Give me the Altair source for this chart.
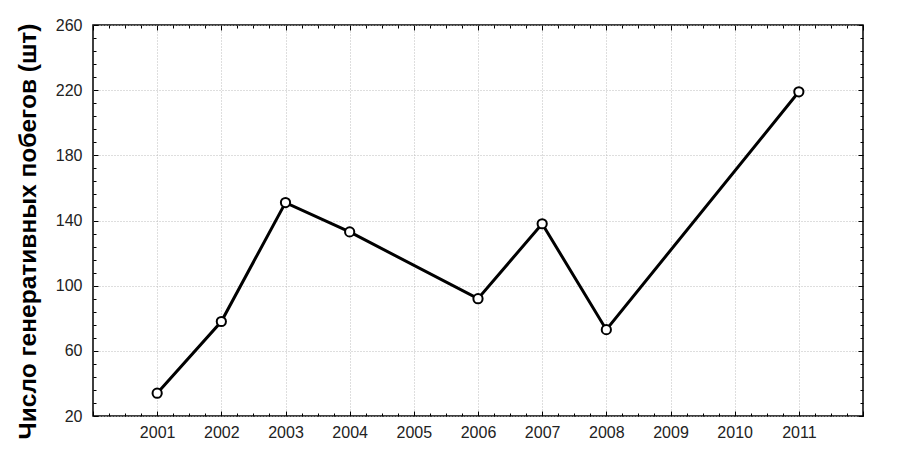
import altair as alt
import pandas as pd

years = [2001, 2002, 2003, 2004, 2006, 2007, 2008, 2011]
values = [34, 78, 151, 133, 92, 138, 73, 219]

x_labels = [2001, 2002, 2003, 2004, 2005, 2006, 2007, 2008, 2009, 2010, 2011]
x_major = [2000, 2001, 2002, 2003, 2004, 2005, 2006, 2007, 2008, 2009, 2010, 2011, 2012]
x_minor = [y + q for y in range(2000, 2012) for q in (0.25, 0.5, 0.75)]
y_labels = [20, 60, 100, 140, 180, 220, 260]
y_minor = [v + s for v in range(20, 260, 40) for s in (8, 16, 24, 32)]

df = pd.DataFrame({"year": years, "value": values})

W, H = 770, 391
xs = alt.Scale(domain=[2000, 2012], nice=False, zero=False)
ys = alt.Scale(domain=[20, 260], nice=False, zero=False)

LF = "Liberation Sans"

def tick_axis(orient, vals, size, offset):
    return alt.Axis(orient=orient, values=vals, labels=False, domain=False, grid=False,
                    ticks=True, tickSize=size, tickColor="black", tickWidth=1,
                    offset=offset, title=None)

base = alt.Chart(df)

line = base.mark_line(color="black", strokeWidth=3).encode(
    x=alt.X("year:Q", scale=xs, axis=alt.Axis(
        orient="bottom", values=x_labels, format="d", ticks=False, domain=False,
        grid=True, gridColor="#bdbdbd", gridDash=[1, 2], gridWidth=1,
        labelFont=LF, labelFontSize=16, labelColor="#222", labelPadding=8,
        labelFlush=False, title=None)),
    y=alt.Y("value:Q", scale=ys, axis=alt.Axis(
        orient="left", values=y_labels, ticks=False, domain=False,
        grid=True, gridColor="#bdbdbd", gridDash=[1, 2], gridWidth=1,
        labelFont=LF, labelFontSize=16, labelColor="#222", labelPadding=11,
        labelFlush=False,
        title="Число генеративных побегов (шт)", titleFont=LF, titleFontSize=24.5,
        titleFontWeight="bold", titleColor="black", titleAngle=270,
        titleX=-65, titleY=206, titleAlign="center", titleBaseline="middle")),
)

points = base.mark_point(shape="circle", filled=True, fill="white", stroke="black",
                         strokeWidth=2, size=85, opacity=1).encode(
    x=alt.X("year:Q", scale=xs, axis=None),
    y=alt.Y("value:Q", scale=ys, axis=None),
)

def ghost(xaxis, yaxis):
    return base.mark_point(opacity=0).encode(
        x=alt.X("year:Q", scale=xs, axis=xaxis),
        y=alt.Y("value:Q", scale=ys, axis=yaxis),
    )

g1 = ghost(tick_axis("bottom", x_major, 5, -5), tick_axis("left", y_labels, 5, -5))
g2 = ghost(tick_axis("bottom", x_minor, 3, -3), tick_axis("left", y_minor, 3, -3))
g3 = ghost(tick_axis("top", x_major, 5, -5), tick_axis("right", y_labels, 5, -5))
g4 = ghost(tick_axis("top", x_minor, 3, -3), tick_axis("right", y_minor, 3, -3))

chart = alt.layer(line, g1, g2, g3, g4, points).resolve_axis(
    x="independent", y="independent"
).properties(
    width=W, height=H,
    autosize=alt.AutoSizeParams(type="none"),
    padding={"left": 85, "top": 17, "right": 30, "bottom": 27},
    background="white",
).configure_view(stroke="black", strokeWidth=1.5)

chart.save("out.html", embed_options={"renderer": "svg", "actions": False})
